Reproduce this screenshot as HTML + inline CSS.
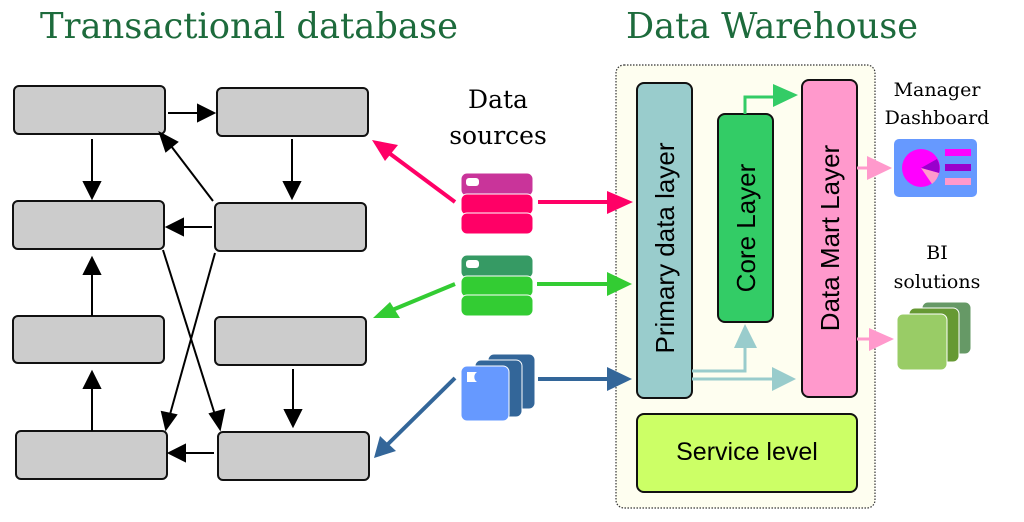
<!DOCTYPE html>
<html><head><meta charset="utf-8"><style>
html,body{margin:0;padding:0;background:#fff;}
svg{display:block;}
</style></head><body>
<svg width="1024" height="522" viewBox="0 0 1024 522" xmlns="http://www.w3.org/2000/svg">
<text x="40" y="38" font-family="'DejaVu Serif', 'Liberation Serif', serif" font-size="35.5" fill="#1d6b3c" textLength="418" lengthAdjust="spacingAndGlyphs">Transactional database</text>
<text x="626" y="38" font-family="'DejaVu Serif', 'Liberation Serif', serif" font-size="35.5" fill="#1d6b3c" textLength="292" lengthAdjust="spacingAndGlyphs">Data Warehouse</text>

<g fill="#cccccc" stroke="#111" stroke-width="2">
<rect x="14" y="86" width="151" height="48" rx="5"/>
<rect x="217" y="88" width="151" height="48" rx="5"/>
<rect x="13" y="201" width="151" height="48" rx="5"/>
<rect x="215" y="203" width="151" height="48" rx="5"/>
<rect x="13" y="316" width="151" height="47" rx="5"/>
<rect x="215" y="317" width="151" height="48" rx="5"/>
<rect x="16" y="431" width="151" height="48" rx="5"/>
<rect x="218" y="432" width="151" height="48" rx="5"/>
</g>
<g stroke="#000" stroke-width="2" fill="none">
<path d="M168 113 L205 113"/><path d="M198 105 L214 113 L198 121z" fill="#000"/>
<path d="M92 139 L92 190"/><path d="M84 182 L92 198 L100 182z" fill="#000"/>
<path d="M292 139 L292 190"/><path d="M284 182 L292 198 L300 182z" fill="#000"/>
<path d="M213 201 L168 142"/><path d="M160 133 L177 142 L166 151z" fill="#000"/>
<path d="M212 227 L178 227"/><path d="M167 227 L183 219 L183 235z" fill="#000"/>
<path d="M163 250 L216 418"/><path d="M220 429 L210 414 L224 410z" fill="#000"/>
<path d="M215 253 L169 418"/><path d="M166 429 L162 412 L176 415z" fill="#000"/>
<path d="M92 316 L92 268"/><path d="M84 274 L92 258 L100 274z" fill="#000"/>
<path d="M92 431 L92 382"/><path d="M84 388 L92 372 L100 388z" fill="#000"/>
<path d="M293 369 L293 418"/><path d="M285 410 L293 426 L301 410z" fill="#000"/>
<path d="M214 453 L180 453"/><path d="M169 453 L185 445 L185 461z" fill="#000"/>
</g>

<text x="498" y="108" text-anchor="middle" font-family="'DejaVu Serif', serif" font-size="25" fill="#000">Data</text>
<text x="498" y="144" text-anchor="middle" font-family="'DejaVu Serif', serif" font-size="25" fill="#000">sources</text>

<rect x="461" y="173" width="72" height="23" rx="6" fill="#c9349a" stroke="#fff"/>
<rect x="466" y="178" width="13" height="8" rx="3" fill="#fff"/>
<rect x="461" y="194" width="72" height="21" rx="6" fill="#ff0066" stroke="#fff"/>
<rect x="461" y="213" width="72" height="21" rx="6" fill="#ff0066" stroke="#fff"/>
<rect x="461" y="255" width="72" height="23" rx="6" fill="#369a64" stroke="#fff"/>
<rect x="466" y="260" width="13" height="8" rx="3" fill="#fff"/>
<rect x="461" y="276" width="72" height="21" rx="6" fill="#33cc33" stroke="#fff"/>
<rect x="461" y="295" width="72" height="21" rx="6" fill="#33cc33" stroke="#fff"/>
<rect x="488" y="354" width="47" height="55" rx="6" fill="#336699" stroke="#fff"/>
<rect x="475" y="360" width="47" height="57" rx="6" fill="#336699" stroke="#fff"/>
<rect x="461" y="366" width="48" height="55" rx="6" fill="#6699ff" stroke="#fff"/>
<path d="M467 372 L477 372 A6 6 0 0 0 477 382 L467 382z" fill="#fff"/>

<g stroke-width="4" fill="none">
<path d="M455 202 L385 150" stroke="#ff0066"/>
<path d="M455 284 L385 313" stroke="#33cc33"/>
<path d="M455 378 L385 447" stroke="#336699"/>
</g>
<path d="M372 140 L398 145 L385 161z" fill="#ff0066"/>
<path d="M373 318 L390 302 L400 318z" fill="#33cc33"/>
<path d="M374 458 L380 436 L396 451z" fill="#336699"/>

<rect x="616" y="65" width="259" height="443" rx="8" fill="#fefef0" stroke="#333" stroke-width="1.2" stroke-dasharray="1.5 1.5"/>

<g stroke-width="4" fill="none">
<path d="M538 202 L610 202" stroke="#ff0066"/>
<path d="M537 284 L610 284" stroke="#33cc33"/>
<path d="M538 379 L610 379" stroke="#336699"/>
</g>
<path d="M607 191 L633 202 L607 214z" fill="#ff0066"/>
<path d="M607 272 L632 284 L607 296z" fill="#33cc33"/>
<path d="M607 367 L632 379 L607 391z" fill="#336699"/>

<rect x="637" y="83" width="55" height="315" rx="7" fill="#99cccc" stroke="#111" stroke-width="2"/>
<rect x="718" y="114" width="55" height="208" rx="7" fill="#33cc66" stroke="#111" stroke-width="2"/>
<rect x="802" y="80" width="55" height="317" rx="7" fill="#ff99cc" stroke="#111" stroke-width="2"/>
<rect x="637" y="414" width="220" height="78" rx="7" fill="#ccff66" stroke="#111" stroke-width="2"/>
<text x="747" y="460" text-anchor="middle" font-family="'Liberation Sans', sans-serif" font-size="25" fill="#000">Service level</text>
<text transform="translate(674 248) rotate(-90)" text-anchor="middle" font-family="'Liberation Sans', sans-serif" font-size="26" fill="#000">Primary data layer</text>
<text transform="translate(755 228) rotate(-90)" text-anchor="middle" font-family="'Liberation Sans', sans-serif" font-size="26" fill="#000">Core Layer</text>
<text transform="translate(839 238) rotate(-90)" text-anchor="middle" font-family="'Liberation Sans', sans-serif" font-size="26" fill="#000">Data Mart Layer</text>

<g fill="none" stroke-width="3">
<path d="M745 114 L745 97 L775 97" stroke="#33cc66"/>
<path d="M692 371 L745 371 L745 340" stroke="#99cccc"/>
<path d="M692 379 L775 379" stroke="#99cccc"/>
<path d="M857 168 L870 168" stroke="#ff99cc"/>
<path d="M857 339 L872 339" stroke="#ff99cc"/>
</g>
<path d="M773 84 L798 95 L773 107z" fill="#33cc66"/>
<path d="M734 348 L745 324 L757 348z" fill="#99cccc"/>
<path d="M772 367 L796 379 L772 391z" fill="#99cccc"/>
<path d="M867 156 L892 168 L867 180z" fill="#ff99cc"/>
<path d="M869 328 L894 339 L869 351z" fill="#ff99cc"/>

<text x="937" y="96" text-anchor="middle" font-family="'DejaVu Serif', serif" font-size="19" fill="#000">Manager</text>
<text x="937" y="124" text-anchor="middle" font-family="'DejaVu Serif', serif" font-size="19" fill="#000">Dashboard</text>
<rect x="894" y="139" width="83" height="58" rx="5" fill="#6699ff"/>
<circle cx="921" cy="168" r="19" fill="#ff00ff"/>
<path d="M921 168 L937 159 A19 19 0 0 1 939 173z" fill="#9900cc"/>
<path d="M921 168 L939 173 A19 19 0 0 1 932 184z" fill="#ff99cc"/>
<rect x="945" y="149" width="26" height="7" fill="#ff00ff"/>
<rect x="945" y="164" width="26" height="7" fill="#9900cc"/>
<rect x="945" y="178" width="26" height="7" fill="#ff99cc"/>

<text x="937" y="259" text-anchor="middle" font-family="'DejaVu Serif', serif" font-size="19" fill="#000">BI</text>
<text x="937" y="288" text-anchor="middle" font-family="'DejaVu Serif', serif" font-size="19" fill="#000">solutions</text>
<rect x="922" y="302" width="49" height="52" rx="6" fill="#669966" stroke="#fff"/>
<rect x="909" y="308" width="50" height="54" rx="6" fill="#669933" stroke="#fff"/>
<rect x="897" y="314" width="50" height="56" rx="6" fill="#99cc66" stroke="#fff"/>
</svg>
</body></html>
